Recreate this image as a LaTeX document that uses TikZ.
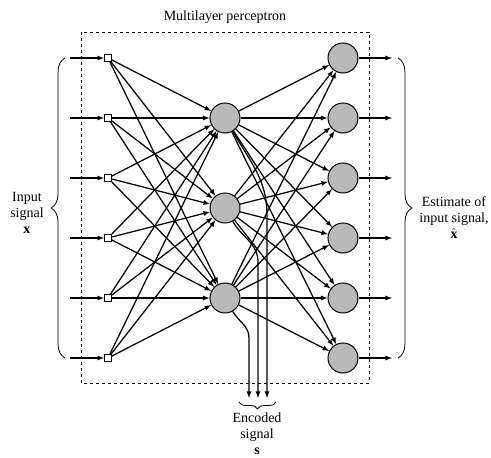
\documentclass[tikz,border=0pt]{standalone}
\usepackage{fontspec}
\setmainfont{Liberation Serif}
\usetikzlibrary{decorations.pathreplacing}
\begin{document}
\begin{tikzpicture}[>=latex, x=1pt, y=-1pt, line width=1.25pt,
  inbox/.style={draw, fill=white, line width=0.9pt, minimum size=7pt, inner sep=0pt},
  neuron/.style={draw, circle, fill=gray!55, line width=1pt, minimum size=30pt, inner sep=0pt},
  txt/.style={font=\fontsize{14}{16}\selectfont, align=center},
  bracestyle/.style={decorate, decoration={brace, amplitude=14pt}, line width=0.8pt}]
\useasboundingbox (0,0) rectangle (491,458);
% frame and title
\draw[dashed, line width=0.8pt] (81,32) rectangle (369,383);
\node[txt] (title) at (225,17) {Multilayer perceptron};
% input and output layers
\foreach \i in {1,...,6} {
  \node[inbox] (in\i) at (108,{-2+60*\i}) {};
  \coordinate (src\i) at (70,{-2+60*\i});
  \draw[->] (src\i) -- (in\i);
  \node[neuron] (out\i) at (343,{-2+60*\i}) {};
  \coordinate (dst\i) at (392,{-2+60*\i});
  \draw[->] (out\i) -- (dst\i);
}
% hidden layer
\foreach \j/\y in {1/118, 2/208, 3/298}
  \node[neuron] (hid\j) at (225,\y) {};
\foreach \i in {1,...,6} {
  \foreach \j in {1,2,3} {
    \draw[->] (in\i) -- (hid\j);
    \draw[->] (hid\j) -- (out\i);
  }
}
% encoded signal
\coordinate (s1) at (267,398);
\coordinate (s2) at (258,398);
\coordinate (s3) at (249,398);
\draw[->] (hid1.-60) to[out=-60,in=90] (267,215) -- (s1);
\draw[->] (hid2.-60) to[out=-60,in=90] (258,262) -- (s2);
\draw[->] (hid3.-60) to[out=-60,in=90] (249,338) -- (s3);
% braces and labels
\draw[bracestyle] (65,358) -- (65,58);
\draw[bracestyle] (398,58) -- (398,358);
\draw[bracestyle, decoration={amplitude=7pt, mirror}] (239,402) -- (276,402);
\node[txt] (xlabel) at (27,213) {Input\\signal\\$\mathbf{x}$};
\node[txt] (xhatlabel) at (454,218) {Estimate of\\input signal,\\$\hat{\mathbf{x}}$};
\node[txt] (slabel) at (257,434) {Encoded\\signal\\$\mathbf{s}$};
\end{tikzpicture}
\end{document}
